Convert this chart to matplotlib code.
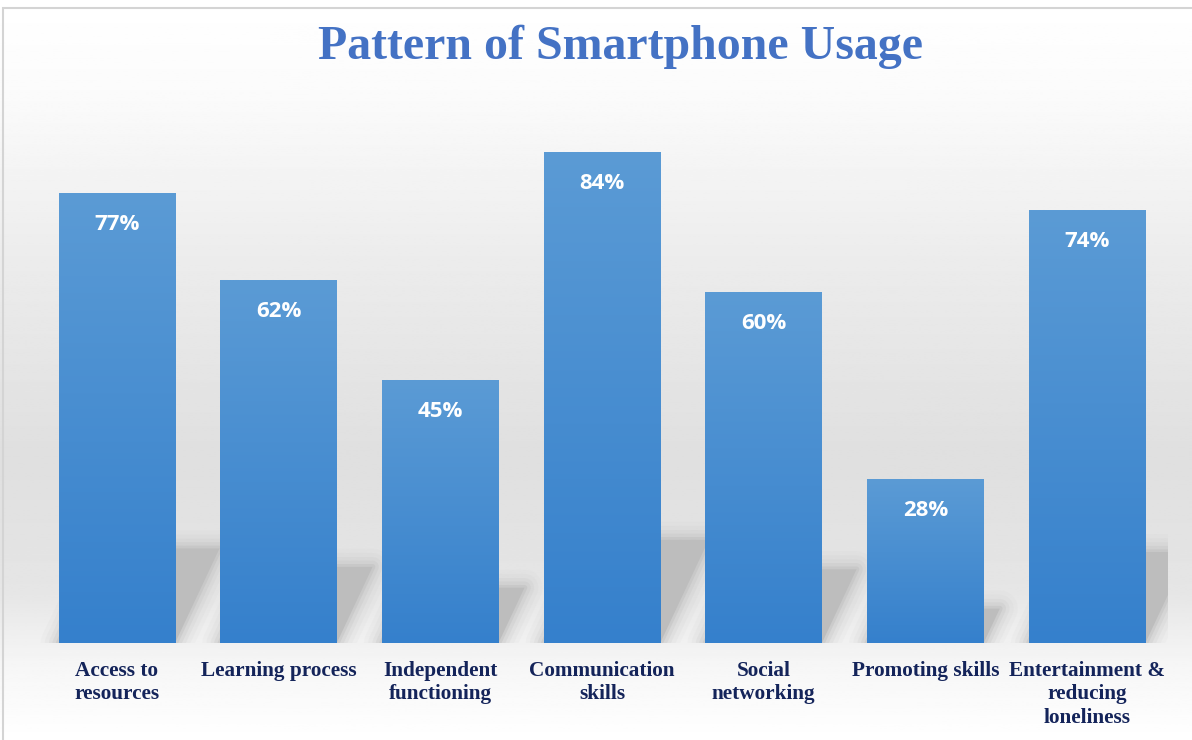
import numpy as np
import matplotlib
matplotlib.use("Agg")
import matplotlib.pyplot as plt
from matplotlib.colors import LinearSegmentedColormap
from matplotlib.patches import Polygon, Rectangle

categories = ["Access to\nresources", "Learning process", "Independent\nfunctioning",
              "Communication\nskills", "Social\nnetworking", "Promoting skills",
              "Entertainment &\nreducing\nloneliness"]
values = [77, 62, 45, 84, 60, 28, 74]
value_labels = ["77%", "62%", "45%", "84%", "60%", "28%", "74%"]

W, H = 1192, 740
fig = plt.figure(figsize=(W / 100, H / 100), dpi=100)

# background: white at top, grey in the middle, white again at the bottom
bg = fig.add_axes([0, 0, 1, 1], zorder=0)
ys = np.linspace(0, 1, 400)           # 0 = top of figure
stops_y = [0.0, 0.12, 0.35, 0.62, 0.80, 0.90, 1.0]
stops_v = [1.0, 0.985, 0.925, 0.875, 0.90, 0.965, 1.0]
grey = np.interp(ys, stops_y, stops_v)
img = np.repeat(grey[:, None], 2, axis=1)
bg.imshow(img, cmap="gray", vmin=0, vmax=1, aspect="auto", extent=[0, 1, 0, 1])
bg.set_xlim(0, 1)
bg.set_ylim(0, 1)
bg.axis("off")

# thin frame
bg.add_patch(Rectangle((3 / W, -0.05), 1.1, (H - 8) / H + 0.05, transform=bg.transAxes,
                       fill=False, edgecolor="#d4d4d4", linewidth=1.5))

ax = fig.add_axes([36 / W, (H - 643) / H, 1132 / W, 585 / H], zorder=1)
ax.patch.set_alpha(0)

x = np.arange(len(categories))
bars = ax.bar(x, values, width=0.72, color="none", edgecolor="none", zorder=3)

# soft diagonal shadows behind the bars
for b, v in zip(bars, values):
    x1 = b.get_x() + b.get_width()
    x0 = b.get_x()
    sh = 0.21 * v
    dx = sh * 0.017
    pts = [(x0, 0), (x1, 0), (x1 + dx, sh), (x0 + dx, sh)]
    for lw, a in [(26, 0.06), (20, 0.08), (14, 0.12), (9, 0.18), (4, 0.3)]:
        ax.add_patch(Polygon(pts, closed=True, facecolor="none", edgecolor="#b4b4b4",
                             linewidth=lw, alpha=a, joinstyle="round", zorder=1))
    ax.add_patch(Polygon(pts, closed=True, facecolor="#bdbdbd", edgecolor="none", zorder=2))

# gradient fill for bars
cmap = LinearSegmentedColormap.from_list("barblue", ["#3580cc", "#5b9bd5"])
grad = np.linspace(0, 1, 256)[:, None]
for b, v in zip(bars, values):
    im = ax.imshow(grad, cmap=cmap, origin="lower", aspect="auto", zorder=3,
                   extent=[b.get_x(), b.get_x() + b.get_width(), 0, v])
    im.set_clip_path(b)

for xi, v, lab in zip(x, values, value_labels):
    ax.text(xi, v - 5.4, lab, ha="center", va="center", color="white",
            fontsize=16, fontweight="bold", family="Open Sans", zorder=5)

ax.set_xlim(-0.5, len(categories) - 0.5)
ax.set_ylim(0, 100)
ax.set_xticks(x)
ax.set_xticklabels(categories, fontsize=15.3, fontweight="bold", family="Liberation Serif",
                   color="#14245a", linespacing=1.22)
ax.tick_params(axis="x", length=0, pad=13)
ax.set_yticks([])
for s in ax.spines.values():
    s.set_visible(False)

fig.text(620 / W, 1 - 47 / H, "Pattern of Smartphone Usage", ha="center", va="center",
         fontsize=34.5, fontweight="bold", family="Liberation Serif", color="#4472c4")

fig.savefig("out.png", dpi=100)
